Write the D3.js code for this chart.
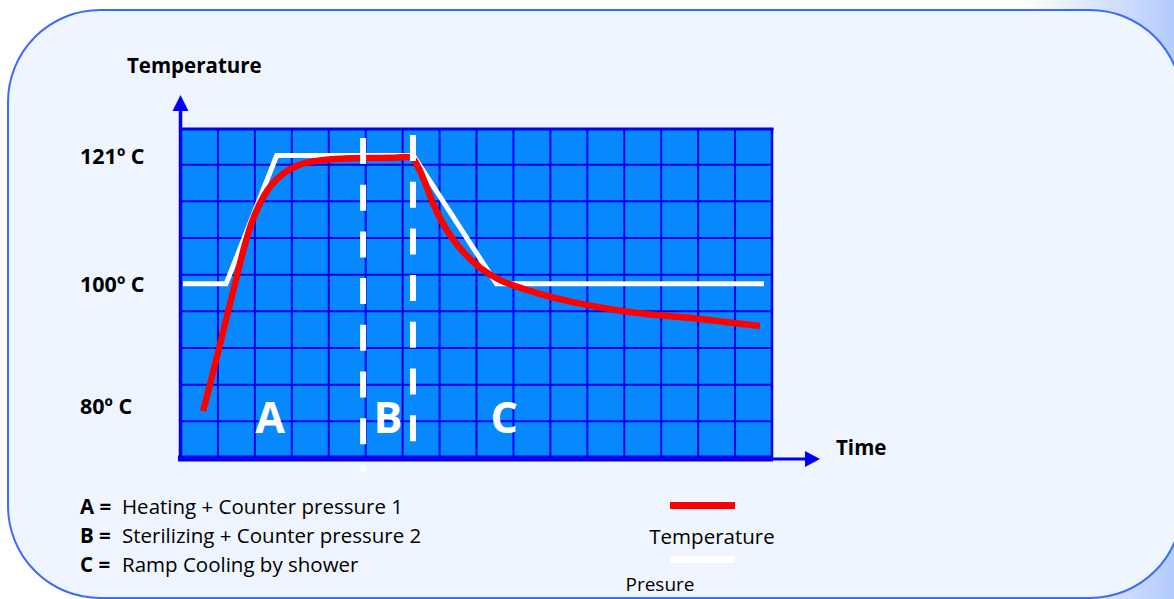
<!DOCTYPE html>
<html><head><meta charset="utf-8">
<script src="https://cdn.jsdelivr.net/npm/d3@7"></script>
<style>
body{margin:0;background:#fff;}
svg{display:block;}
text{font-family:"Open Sans",sans-serif;}
</style>
</head><body>
<svg id="c" width="1174" height="599"></svg>
<script>
// ---------- data ----------
const timeTicks = d3.range(0, 17, 1);
const tempGrid = d3.range(71.5, 125.6, 6);
const tempTickValues = [121, 100, 80];
const tempTickLabels = ["121º C", "100º C", "80º C"];

const pressureTime   = [0.05, 1.22, 2.59, 6.29, 8.54, 15.78];
const pressureValues = [100, 100, 121, 121, 100, 100];

const temperatureTime   = [0.60, 0.95, 1.30, 1.54, 1.73, 1.92, 2.14, 2.41, 2.76, 3.22, 3.76, 4.44, 5.12, 5.80, 6.25, 6.42, 6.61, 6.82, 7.07, 7.34, 7.69, 8.10, 8.64, 9.53, 10.61, 12.24, 13.97, 15.67];
const temperatureValues = [79.2, 87.5, 96.1, 101.9, 106.4, 110.1, 113.2, 115.9, 118.0, 119.5, 120.2, 120.5, 120.6, 120.65, 120.6, 119.1, 116.5, 113.2, 110.1, 107.5, 104.9, 102.6, 100.6, 98.7, 97.0, 95.3, 94.3, 93.1];

const phaseBounds  = [4.93, 6.28];
const phaseNames   = ["A", "B", "C"];
const phaseCenters = [2.41, 5.6, 8.75];

const legendKeys  = ["A =", "B =", "C ="];
const legendTexts = ["Heating + Counter pressure 1", "Sterilizing + Counter pressure 2", "Ramp Cooling by shower"];
const seriesNames = ["Temperature", "Presure"];
const yAxisTitle = "Temperature";
const xAxisTitle = "Time";

// ---------- setup ----------
const svg = d3.select("#c");
const W = 1174, H = 599;

const defs = svg.append("defs");
const bg = defs.append("linearGradient").attr("id", "bgGrad").attr("x1", 0).attr("x2", 1).attr("y1", 0).attr("y2", 0);
bg.append("stop").attr("offset", 0).attr("stop-color", "#ffffff");
bg.append("stop").attr("offset", 0.87).attr("stop-color", "#ffffff");
bg.append("stop").attr("offset", 1).attr("stop-color", "#b3cbfd");

svg.append("rect").attr("width", W).attr("height", H).attr("fill", "url(#bgGrad)");
svg.append("rect").attr("x", 8).attr("y", 10).attr("width", 1174).attr("height", 588).attr("rx", 92).attr("ry", 92)
  .attr("fill", "#eff5ff").attr("stroke", "#3b6cf7").attr("stroke-width", 2);

const x = d3.scaleLinear().domain([0, 16]).range([181, 772]);
const y = d3.scaleLinear().domain([71.5, 125.5]).range([458, 128]);

const gridBlue = "#0000ee";
const plot = svg.append("g");

// plot background
plot.append("rect")
  .attr("x", x(0)).attr("y", y(125.5))
  .attr("width", x(16) - x(0)).attr("height", y(71.5) - y(125.5))
  .attr("fill", "#0789fd");

// vertical grid lines
plot.append("g").selectAll("line").data(timeTicks.slice(1, -1)).join("line")
  .attr("x1", d => x(d)).attr("x2", d => x(d))
  .attr("y1", y(125.5)).attr("y2", y(71.5))
  .attr("stroke", gridBlue).attr("stroke-width", 2);

// horizontal grid lines
plot.append("g").selectAll("line").data(tempGrid.slice(1, -1)).join("line")
  .attr("x1", x(0)).attr("x2", x(16))
  .attr("y1", d => y(d)).attr("y2", d => y(d))
  .attr("stroke", gridBlue).attr("stroke-width", 2);

// borders
plot.append("line").attr("x1", x(0)).attr("x2", x(16) + 1.5).attr("y1", y(125.5) + 1).attr("y2", y(125.5) + 1)
  .attr("stroke", gridBlue).attr("stroke-width", 3);
plot.append("line").attr("x1", x(16)).attr("x2", x(16)).attr("y1", y(125.5)).attr("y2", y(71.5))
  .attr("stroke", gridBlue).attr("stroke-width", 2.5);

// pressure line (white)
const pressureData = pressureTime.map((t, i) => ({t, v: pressureValues[i]}));
plot.append("path").datum(pressureData)
  .attr("d", d3.line().x(d => x(d.t)).y(d => y(d.v)))
  .attr("fill", "none").attr("stroke", "#ffffff").attr("stroke-width", 5)
  .attr("stroke-linejoin", "miter");

// temperature line (red)
const tempData = temperatureTime.map((t, i) => ({t, v: temperatureValues[i]}));
plot.append("path").datum(tempData)
  .attr("d", d3.line().x(d => x(d.t)).y(d => y(d.v)).curve(d3.curveCatmullRom.alpha(0.5)))
  .attr("fill", "none").attr("stroke", "#ff0000").attr("stroke-width", 6.5)
  .attr("stroke-linejoin", "round");

// dashed phase boundaries
const dashEnds = [y(69.3), y(73.9)];
plot.append("g").selectAll("line").data(phaseBounds).join("line")
  .attr("x1", d => x(d)).attr("x2", d => x(d))
  .attr("y1", (d, i) => y(125.5) + 10 - i * 3)
  .attr("y2", (d, i) => dashEnds[i])
  .attr("stroke", "#ffffff").attr("stroke-width", 6)
  .attr("stroke-dasharray", "26,20.7");

// phase letters
plot.append("g").selectAll("text").data(phaseNames).join("text")
  .attr("x", (d, i) => x(phaseCenters[i]))
  .attr("y", 433)
  .attr("text-anchor", "middle")
  .attr("fill", "#ffffff").attr("font-weight", 700).attr("font-size", 43)
  .text(d => d);

// axes: bottom thick border + x axis arrow
plot.append("line").attr("x1", x(0) - 3).attr("x2", x(16) + 1).attr("y1", y(71.5) + 0.5).attr("y2", y(71.5) + 0.5)
  .attr("stroke", "#0000f5").attr("stroke-width", 6);
plot.append("line").attr("x1", x(16)).attr("x2", 808).attr("y1", y(71.5) + 1).attr("y2", y(71.5) + 1)
  .attr("stroke", "#0000f5").attr("stroke-width", 3);
plot.append("path")
  .attr("d", `M820,${y(71.5) + 1}L805,${y(71.5) - 7}L805,${y(71.5) + 9}Z`)
  .attr("fill", "#0000f5");

// y axis + arrow
plot.append("line").attr("x1", x(0) - 0.5).attr("x2", x(0) - 0.5).attr("y1", y(71.5) + 3).attr("y2", 108)
  .attr("stroke", "#0000f5").attr("stroke-width", 3.5);
plot.append("path")
  .attr("d", `M${x(0) - 0.5},95L${x(0) - 8.5},111L${x(0) + 7.5},111Z`)
  .attr("fill", "#0000f5");

// y tick labels
svg.append("g").selectAll("text").data(tempTickValues).join("text")
  .attr("x", 80).attr("y", d => y(d) + 8)
  .attr("font-weight", 700).attr("font-size", 21.5).attr("fill", "#000")
  .text((d, i) => tempTickLabels[i]);

// axis titles
svg.append("text").attr("x", 127).attr("y", 73)
  .attr("font-weight", 700).attr("font-size", 20.5).attr("fill", "#000").text(yAxisTitle);
svg.append("text").attr("x", 836).attr("y", 455)
  .attr("font-weight", 700).attr("font-size", 20.5).attr("fill", "#000").text(xAxisTitle);

// phase legend (bottom left)
const lg = svg.append("g");
legendKeys.forEach((k, i) => {
  const by = 514 + i * 29;
  lg.append("text").attr("x", 80).attr("y", by).attr("font-weight", 700).attr("font-size", 20.5).attr("fill", "#000").text(k);
  lg.append("text").attr("x", 122).attr("y", by).attr("font-size", 20.5).attr("fill", "#000").text(legendTexts[i]);
});

// series legend
const sl = svg.append("g");
sl.append("rect").attr("x", 670).attr("y", 502).attr("width", 65).attr("height", 7).attr("fill", "#ff0000");
sl.append("text").attr("x", 712).attr("y", 544).attr("text-anchor", "middle").attr("font-size", 20.5).attr("fill", "#000").text(seriesNames[0]);
sl.append("rect").attr("x", 670).attr("y", 556).attr("width", 65).attr("height", 7).attr("fill", "#ffffff");
sl.append("text").attr("x", 660).attr("y", 591).attr("text-anchor", "middle").attr("font-size", 19).attr("fill", "#000").text(seriesNames[1]);
</script>
</body></html>
